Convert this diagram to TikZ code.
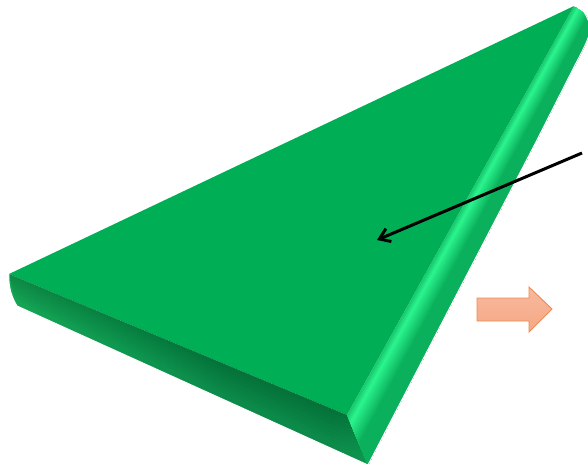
\documentclass[tikz,border=0pt]{standalone}
\usepackage{xcolor}
\usetikzlibrary{calc,arrows.meta}

\definecolor{topgreen}{HTML}{00AE55}
\definecolor{brightgreen}{HTML}{2CF58E}
\definecolor{basegreen}{HTML}{0AB05C}
\definecolor{sidelight}{HTML}{15A655}
\definecolor{sidedark}{HTML}{0C8A49}
\definecolor{sidemid}{HTML}{0E964F}
\definecolor{blockfill}{HTML}{F8B99D}
\definecolor{blockfilldark}{HTML}{F5A885}
\definecolor{blockline}{HTML}{EE8A55}

\pgfdeclarehorizontalshading{frontshade}{100bp}{color(0bp)=(sidelight); color(25bp)=(sidelight);
  color(42bp)=(sidemid); color(55bp)=(sidedark); color(70bp)=(sidedark); color(75bp)=(sidemid); color(100bp)=(sidemid)}

\begin{document}
\begin{tikzpicture}[x=1pt,y=-1pt]

\useasboundingbox (0,0) rectangle (588,468);

\coordinate (apex) at (574,6);
\coordinate (leftcorner) at (9,274);
\coordinate (lowleft) at (17,306);
\coordinate (frontcorner) at (347,415);
\coordinate (tip) at (368,465);
\coordinate (edgetop) at (598,23);

% Top face
\fill[topgreen] (leftcorner) -- (frontcorner) -- (apex) -- cycle;

% Front face
\shade[shading=frontshade]
  (leftcorner) .. controls (8,287) and (12,298) .. (lowleft) -- (tip) -- (frontcorner) -- cycle;
\foreach \t in {0.1,0.2,...,0.8} {
  \fill[black, opacity=0.02] (leftcorner) -- (frontcorner) -- ($(frontcorner)!\t!(tip)$) -- ($(leftcorner)!\t!(lowleft)$) -- cycle;
}

% Right bevel
\begin{scope}
\clip (frontcorner) -- (tip) -- (537,140) -- (575,65) .. controls (584,48) and (594,30) .. (589,22)
  .. controls (585,12) and (580,4) .. (apex) -- cycle;
\foreach \t in {0,0.02,...,0.98} {
  \pgfmathsetmacro\p{\t<0.16 ? 35+65*\t/0.16 : max(0,100*(1-(\t-0.16)/0.42))}
  \fill[brightgreen!\p!basegreen] ($(frontcorner)!\t!(tip)$) -- (tip) -- (edgetop) -- ($(apex)!\t!(edgetop)$) -- cycle;
}
\end{scope}

% Outer edge
\draw[white, line width=1pt, line join=round]
  (leftcorner) .. controls (8,287) and (12,298) .. (lowleft) -- (tip) -- (537,140) -- (575,65)
  .. controls (584,48) and (594,30) .. (589,22) .. controls (585,12) and (580,4) .. (apex);

% Orange block arrow
\draw[blockline, line width=0.9pt, top color=blockfill, bottom color=blockfilldark]
  (477,298) -- (529,298) -- (529,287) -- (552,309) -- (529,332) -- (529,321) -- (477,321) -- cycle;

% Black pointer
\coordinate (pointerstart) at (582,153);
\coordinate (pointerend) at (377,240);
\draw[line width=3pt, -{Straight Barb[length=10pt,width=14pt]}] (pointerstart) -- (pointerend);

\end{tikzpicture}
\end{document}
